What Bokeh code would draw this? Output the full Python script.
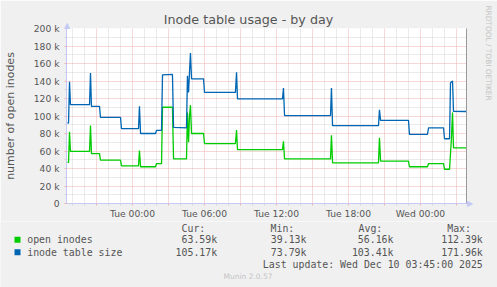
import math
from bokeh.plotting import figure
from bokeh.layouts import column, row
from bokeh.models import Range1d, FixedTicker, LinearAxis, Label
from bokeh.core.properties import value
from bokeh.embed import file_html
from bokeh.resources import INLINE

# ---------------- data ----------------
title_text = "Inode table usage - by day"
y_label = "number of open inodes"

# hours counted from Mon 00:00
x_start_hour = 18.5
x_end_hour = 18.5 + 2000 / 60.0
x_major_hours = [21, 24, 27, 30, 33, 36, 39, 42, 45, 48, 51]
x_minor_hours = [19, 20, 22, 23, 25, 26, 28, 29, 31, 32, 34, 35, 37, 38, 40, 41,
                 43, 44, 46, 47, 49, 50]
x_label_hours = [24, 30, 36, 42, 48]
x_tick_labels = ["Tue 00:00", "Tue 06:00", "Tue 12:00", "Tue 18:00", "Wed 00:00"]

y_major_values = [0, 20, 40, 60, 80, 100, 120, 140, 160, 180, 200]
y_minor_values = [10, 30, 50, 70, 90, 110, 130, 150, 170, 190]
y_tick_labels = ["0", "20 k", "40 k", "60 k", "80 k", "100 k", "120 k", "140 k",
                 "160 k", "180 k", "200 k"]

open_hours = [18.58, 18.67, 18.75, 18.83, 20.42, 20.5, 20.58, 21.25, 21.33, 23.0,
              23.08, 24.5, 24.58, 24.67, 25.92, 26.0, 26.42, 26.5, 27.33, 27.42,
              28.5, 28.58, 28.67, 28.75, 28.83, 28.92, 29.92, 30.0, 32.58, 32.67,
              32.75, 36.5, 36.58, 36.67, 40.5, 40.58, 40.67, 44.5, 44.58, 44.67,
              47.0, 47.08, 48.58, 48.67, 49.92, 50.0, 50.42, 50.58, 50.67, 50.75,
              51.83]
open_values = [47, 47, 82, 59.5, 59.5, 89, 57, 57, 49.5, 49.5,
               43, 43, 60.5, 42, 42, 45.5, 45.5, 110, 110, 51,
               51, 104, 70, 100, 112.39, 80, 80, 68.5, 68.5, 84,
               61.5, 61.5, 71, 51, 51, 78, 46.5, 46.5, 75, 48.5,
               48.5, 42, 42, 45.5, 45.5, 39.13, 39.13, 75, 104, 63.6,
               63.59]

table_hours = [18.58, 18.67, 18.75, 18.83, 20.42, 20.5, 20.58, 21.25, 21.33, 23.0,
               23.08, 24.5, 24.58, 24.67, 25.92, 26.0, 26.42, 26.5, 27.33, 27.42,
               28.5, 28.58, 28.67, 28.75, 28.83, 28.92, 29.92, 30.0, 32.58, 32.67,
               32.75, 36.5, 36.58, 36.67, 40.5, 40.58, 40.67, 44.5, 44.58, 44.67,
               47.0, 47.08, 48.58, 48.67, 49.92, 50.0, 50.42, 50.5, 50.67, 50.75,
               51.83]
table_values = [92, 92, 139, 113, 113, 149, 111, 111, 98.5, 98.5,
                85.5, 85.5, 111, 80, 80, 83.5, 83.5, 147, 147.5, 87,
                86.5, 146, 127, 150, 171.96, 142.5, 142.5, 127, 127, 150,
                119.5, 119.5, 132, 100.5, 100.5, 132, 89, 89, 107, 95,
                95, 79, 79, 86.5, 86.5, 74, 74, 138, 140, 105.2,
                105.17]

series_names = ["open inodes", "inode table size"]
series_colors = ["#00CC00", "#0066B3"]
stat_headers = ["Cur:", "Min:", "Avg:", "Max:"]
stat_rows = [["63.59k", "39.13k", "56.16k", "112.39k"],
             ["105.17k", "73.79k", "103.41k", "171.96k"]]
last_update = "Last update: Wed Dec 10 03:45:00 2025"
watermark = "RRDTOOL / TOBI OETIKER"
footer = "Munin 2.0.57"

# ---------------- styling / layout ----------------
W = 497
H_MAIN, H_LEG = 221, 66
L, R, T, BOT = 66, 31, 28, 18
FRAME_W, FRAME_H = W - L - R, H_MAIN - T - BOT   # 400 x 175
px_per_hour = FRAME_W / (x_end_hour - x_start_hour)
px_per_k = FRAME_H / 200.0

bg = "#F0F0F0"
axis_col = "#C4C8F4"
major_col = "#EFB0B0"
minor_col = "#D4D4D4"
text_col = "#555555"
faint_col = "#C4C4C4"

p = figure(width=W, height=H_MAIN, output_backend="svg", toolbar_location=None,
           x_range=Range1d(x_start_hour, x_end_hour), y_range=Range1d(0, 200),
           min_border_left=L, min_border_right=R, min_border_top=T,
           min_border_bottom=BOT)
p.border_fill_color = bg
p.background_fill_color = "#FFFFFF"
p.outline_line_color = None

p.xaxis.ticker = FixedTicker(ticks=x_major_hours, minor_ticks=x_minor_hours)
overrides = {h: "" for h in x_major_hours}
for h, t in zip(x_label_hours, x_tick_labels):
    overrides[h] = t
p.xaxis.major_label_overrides = overrides
p.yaxis.ticker = FixedTicker(ticks=y_major_values, minor_ticks=y_minor_values)
p.yaxis.major_label_overrides = {v: t for v, t in zip(y_major_values, y_tick_labels)}

for ax in (p.xaxis, p.yaxis):
    ax.axis_line_color = axis_col
    ax.major_tick_line_color = major_col
    ax.minor_tick_line_color = minor_col
    ax.major_tick_in = 0
    ax.major_tick_out = 2
    ax.minor_tick_in = 0
    ax.minor_tick_out = 2
    ax.major_label_text_font = "DejaVu Sans"
    ax.major_label_text_font_size = "9.2px"
    ax.major_label_text_color = text_col
p.xaxis.major_label_standoff = 2
p.yaxis.major_label_standoff = 5
p.yaxis.axis_label = y_label
p.yaxis.axis_label_text_font = "DejaVu Sans"
p.yaxis.axis_label_text_font_style = "normal"
p.yaxis.axis_label_text_font_size = "11px"
p.yaxis.axis_label_text_color = text_col
p.yaxis.axis_label_standoff = 14

for g in (p.xgrid, p.ygrid):
    g.grid_line_color = major_col
    g.grid_line_dash = "1 1"
    g.minor_grid_line_color = minor_col
    g.minor_grid_line_dash = "1 1"

right_axis = LinearAxis(major_tick_line_color=None, minor_tick_line_color=None,
                        major_label_text_color=None, major_label_text_font_size="0px",
                        major_label_standoff=0, major_tick_out=0, minor_tick_out=0,
                        axis_line_color="#9A9A9A")
p.add_layout(right_axis, "right")

# series
p.line(open_hours, open_values, line_color=series_colors[0], line_width=1.3)
p.line(table_hours, table_values, line_color=series_colors[1], line_width=1.3)


def hx(X):  # canvas px -> hours
    return x_start_hour + (X - L) / px_per_hour


def ky(Y):  # canvas px -> k value
    return (T + FRAME_H - Y) / px_per_k


def side_label(side, text, X, Y, size, color, align="center", angle=0.0,
               font="DejaVu Sans"):
    p.add_layout(Label(x=hx(X), y=ky(Y), x_units="data", y_units="data",
                       text=text, text_font=font, text_font_size=f"{size}px",
                       text_color=color, text_align=align, text_baseline="middle",
                       angle=angle), side)


side_label("above", title_text, 248, 19, 12.7, text_col)
side_label("right", "\u25B2", 66.5, 24.5, 8, axis_col)
side_label("right", "\u25B6", 466.5, 203.2, 8, axis_col, align="left")
side_label("right", watermark, 488, 52.5, 7.4, faint_col, angle=-math.pi / 2)

# ---------------- legend strip ----------------
q = figure(width=W, height=H_LEG, output_backend="svg", toolbar_location=None,
           x_range=Range1d(0, W), y_range=Range1d(H_LEG, 0),
           min_border_left=0, min_border_right=0, min_border_top=0,
           min_border_bottom=0)
q.axis.visible = False
q.grid.visible = False
q.outline_line_color = None
q.border_fill_color = bg
q.background_fill_color = bg

mono = value("DejaVu Sans Mono")
fs = value("9.9px")
hdr_x = [181, 270, 358, 446.7]
val_right = [216.7, 306, 393, 482.3]
off = H_MAIN  # canvas y of the strip's top edge
hdr_y = 228.0 - off
row_y = [239.3 - off, 251.7 - off]
upd_y = 264.3 - off
foot_y = 276.0 - off

q.text(x=hdr_x, y=[hdr_y] * 4, text=stat_headers, text_font=mono, text_font_size=fs,
       text_color=text_col, text_align="left", text_baseline="middle")
q.text(x=[26.7] * 2, y=row_y, text=series_names, text_font=mono, text_font_size=fs,
       text_color=text_col, text_align="left", text_baseline="middle")
for ry, vals in zip(row_y, stat_rows):
    q.text(x=val_right, y=[ry] * 4, text=vals, text_font=mono, text_font_size=fs,
           text_color=text_col, text_align="right", text_baseline="middle")
q.text(x=[482.3], y=[upd_y], text=[last_update], text_font=mono, text_font_size=fs,
       text_color=text_col, text_align="right", text_baseline="middle")
q.text(x=[247.5], y=[foot_y], text=[footer], text_font=value("DejaVu Sans"),
       text_font_size=value("7.5px"), text_color=faint_col, text_align="center",
       text_baseline="middle")
sq = 6
q.quad(left=[14, 14], right=[14 + sq, 14 + sq],
       top=[y - sq / 2 for y in row_y], bottom=[y + sq / 2 for y in row_y],
       fill_color=series_colors, line_color=None)

layout = column(p, row(q), spacing=0)
open("out.html", "w").write(file_html(layout, INLINE))
